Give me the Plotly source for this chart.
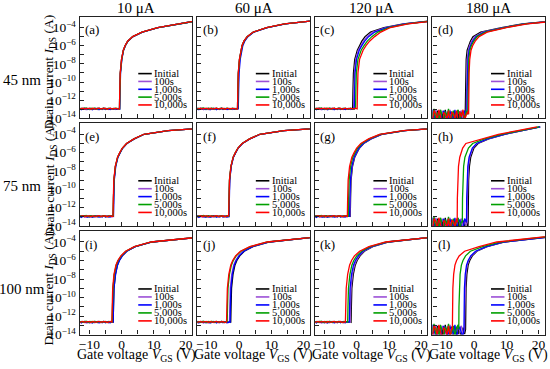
import plotly.graph_objects as go

# ---------------- data ----------------
SERIES = ["Initial", "100s", "1,000s", "5,000s", "10,000s"]
COLORS = ["#000000", "#9b4fd6", "#0000ff", "#00a000", "#ff0000"]
CURRENTS = ["10 μA", "60 μA", "120 μA", "180 μA"]
THICKNESS = ["45 nm", "75 nm", "100 nm"]
TAGS = [["(a)", "(b)", "(c)", "(d)"],
        ["(e)", "(f)", "(g)", "(h)"],
        ["(i)", "(j)", "(k)", "(l)"]]

X_TICKS = [-10, 0, 10, 20]
X_TICK_TEXT = ["−10", "0", "10", "20"]
X_MINOR = [-5, 5, 15]
Y_EXP = [-14, -12, -10, -8, -6, -4]
Y_MINOR_EXP = [-13, -11, -9, -7, -5]

# log10(I_DS) levels; each curve list = [V leaving floor, V at each level]
LEVELS = [-11, -9, -7.5, -6.5, -6, -5.5, -5, -4.5, -4, -3.6, -3.2]

# off-state floor: log10(I) level per panel
FLOOR_LEVEL = [[-12.95, -12.95, -12.95, -13.55],
               [-12.95, -12.95, -12.95, -13.6],
               [-12.65, -12.65, -12.65, -13.45]]
SPIKY = [[False, False, False, True],
         [False, False, False, True],
         [False, False, False, True]]
FLOOR_GRID = [-14.0, -13.5, -13.0, -12.5, -12.0, -11.5, -11.0, -10.5, -10.0, -9.5,
              -9.0, -8.5, -8.0, -7.5, -7.0, -6.5, -6.0, -5.5, -5.0, -4.5,
              -4.0, -3.5, -3.0, -2.5, -2.0, -1.5, -1.0, -0.5, 0.0, 0.5]
NOISE_SMALL = [
    [0.05, -0.03, 0.06, -0.05, 0.02, 0.07, -0.04, 0.03, -0.06, 0.05, 0.01, -0.04, 0.06, -0.02, 0.04,
     -0.05, 0.03, 0.06, -0.03, 0.02, -0.05, 0.04, 0.00, -0.03, 0.05, -0.02, 0.03, -0.04, 0.02, 0.0],
    [-0.06, 0.04, -0.08, 0.03, -0.05, 0.02, -0.09, 0.05, -0.03, -0.07, 0.04, -0.06, 0.02, -0.08, 0.03,
     -0.04, -0.07, 0.05, -0.05, 0.03, -0.08, 0.02, -0.04, 0.05, -0.06, 0.03, -0.02, 0.04, -0.05, 0.0],
    [0.02, -0.07, 0.04, -0.10, 0.06, -0.04, 0.03, -0.08, 0.05, -0.03, -0.09, 0.04, -0.05, 0.06, -0.10,
     0.02, -0.04, 0.05, -0.07, 0.03, -0.05, -0.08, 0.04, -0.03, 0.02, -0.06, 0.05, -0.02, 0.03, 0.0],
    [0.08, 0.02, -0.04, 0.07, -0.02, 0.05, 0.09, -0.03, 0.04, 0.06, -0.05, 0.08, 0.01, -0.03, 0.07,
     0.04, -0.02, 0.06, 0.03, -0.04, 0.07, 0.02, 0.05, -0.03, 0.06, 0.01, -0.02, 0.05, 0.03, 0.0],
    [0.03, 0.06, -0.02, 0.04, 0.08, -0.03, 0.05, 0.02, 0.07, -0.04, 0.06, 0.03, -0.02, 0.05, 0.08,
     -0.03, 0.04, 0.02, 0.06, -0.04, 0.03, 0.07, -0.02, 0.05, 0.02, 0.04, -0.03, 0.06, 0.02, 0.0],
]
NOISE_SPIKY = [
    [-0.2, 0.3, -0.7, 0.1, -0.9, 0.4, -0.3, -0.8, 0.2, -0.5, 0.5, -0.9, 0.0, -0.4, 0.3,
     -0.8, 0.1, -0.6, 0.4, -0.2, -0.9, 0.2, -0.5, 0.3, -0.7, 0.1, -0.3, 0.2, -0.6, 0.0],
    [0.4, -0.6, 0.2, -0.9, 0.5, -0.3, 0.1, -0.8, 0.4, -0.2, -0.7, 0.3, -0.5, 0.5, -0.9,
     0.2, -0.4, 0.3, -0.8, 0.1, 0.4, -0.6, 0.2, -0.3, 0.5, -0.8, 0.1, -0.4, 0.3, 0.0],
    [-0.8, 0.1, 0.5, -0.4, -0.1, -0.9, 0.3, 0.2, -0.6, 0.4, -0.3, 0.1, -0.8, 0.3, 0.0,
     -0.5, 0.5, -0.9, -0.1, 0.3, -0.4, -0.7, 0.4, 0.0, -0.6, 0.3, -0.9, 0.1, -0.2, 0.0],
    [0.2, -0.9, 0.0, 0.6, -0.5, 0.2, -0.7, 0.5, -0.1, -0.9, 0.3, -0.2, 0.6, -0.6, -0.3,
     0.4, -0.7, 0.2, 0.5, -0.8, 0.1, 0.3, -0.9, 0.4, -0.2, 0.2, -0.5, 0.3, -0.8, 0.0],
    [-0.4, 0.2, -0.8, 0.4, 0.1, -0.6, 0.5, -0.3, -0.9, 0.2, 0.0, -0.6, 0.4, -0.9, 0.2,
     0.1, -0.5, 0.4, -0.8, 0.3, -0.3, 0.5, -0.6, -0.1, 0.3, -0.7, 0.4, -0.2, 0.1, 0.0],
]

# ---- 45 nm ----
CURVES_A = [
    [-0.65, -0.55, -0.40, 0.00, 0.55, 1.10, 1.90, 3.50, 6.40, 11.3, 17.0, 24.4],
    [-0.60, -0.50, -0.35, 0.05, 0.60, 1.15, 1.95, 3.55, 6.45, 11.3, 17.0, 24.4],
    [-0.55, -0.45, -0.30, 0.10, 0.65, 1.20, 2.00, 3.60, 6.50, 11.4, 17.0, 24.4],
    [-0.60, -0.50, -0.35, 0.05, 0.60, 1.15, 1.95, 3.50, 6.40, 11.3, 17.0, 24.4],
    [-0.65, -0.55, -0.40, 0.00, 0.55, 1.10, 1.90, 3.45, 6.35, 11.2, 16.9, 24.3],
]
CURVES_B = [
    [-0.50, -0.40, -0.25, 0.10, 0.50, 0.90, 1.50, 2.50, 4.40, 8.6, 14.2, 24.5],
    [-0.40, -0.30, -0.15, 0.20, 0.60, 1.00, 1.60, 2.60, 4.50, 8.7, 14.3, 24.5],
    [-0.25, -0.15, 0.00, 0.35, 0.75, 1.15, 1.75, 2.75, 4.60, 8.8, 14.4, 24.6],
    [-0.45, -0.35, -0.20, 0.15, 0.55, 0.95, 1.55, 2.55, 4.45, 8.6, 14.2, 24.5],
    [-0.50, -0.40, -0.25, 0.10, 0.50, 0.90, 1.50, 2.50, 4.40, 8.5, 14.1, 24.4],
]
CURVES_C = [
    [-1.25, -1.15, -1.00, -0.60, 0.20, 0.90, 1.60, 2.60, 4.30, 8.5, 14.5, 25.0],
    [-0.95, -0.85, -0.70, -0.30, 0.50, 1.30, 2.10, 3.20, 5.00, 9.0, 14.8, 25.1],
    [-0.75, -0.65, -0.50, -0.05, 0.80, 1.60, 2.50, 3.70, 5.60, 9.4, 15.1, 25.2],
    [-0.35, -0.25, -0.10, 0.40, 1.40, 2.30, 3.30, 4.70, 6.60, 10.0, 15.6, 25.4],
    [0.15, 0.25, 0.40, 0.90, 2.00, 2.90, 4.00, 5.60, 7.50, 10.5, 16.0, 25.6],
]
CURVES_D = [
    [-2.80, -2.75, -2.70, -2.50, -2.20, -1.80, -1.20, -0.40, 2.00, 8.5, 15.0, 27.0],
    [-2.50, -2.45, -2.40, -2.20, -1.85, -1.45, -0.80, 0.10, 2.60, 9.0, 15.4, 27.2],
    [-2.25, -2.20, -2.15, -1.95, -1.60, -1.15, -0.45, 0.50, 3.10, 9.4, 15.7, 27.3],
    [-2.00, -1.95, -1.90, -1.70, -1.35, -0.90, -0.15, 0.90, 3.50, 9.6, 15.9, 27.4],
    [-1.75, -1.70, -1.60, -1.40, -1.00, -0.50, 0.30, 1.50, 4.00, 10.0, 16.5, 27.6],
]
# ---- 75 nm ----
CURVES_E = [
    [-2.60, -2.50, -2.35, -1.90, -1.20, -0.50, 0.30, 1.60, 3.90, 7.0, 14.5, 31.0],
    [-2.55, -2.45, -2.30, -1.85, -1.15, -0.45, 0.35, 1.65, 3.95, 7.0, 14.5, 31.0],
    [-2.50, -2.40, -2.25, -1.80, -1.10, -0.40, 0.40, 1.70, 4.00, 7.1, 14.6, 31.0],
    [-2.60, -2.50, -2.35, -1.90, -1.20, -0.50, 0.30, 1.60, 3.90, 7.0, 14.5, 31.0],
    [-2.65, -2.55, -2.40, -1.95, -1.25, -0.55, 0.25, 1.55, 3.85, 6.9, 14.4, 31.0],
]
CURVES_F = [
    [-3.20, -3.10, -2.95, -2.50, -1.80, -1.10, -0.30, 1.00, 3.30, 6.5, 14.0, 30.5],
    [-3.20, -3.10, -2.95, -2.50, -1.80, -1.10, -0.30, 1.00, 3.30, 6.5, 14.0, 30.5],
    [-3.15, -3.05, -2.90, -2.45, -1.75, -1.05, -0.25, 1.05, 3.35, 6.6, 14.0, 30.5],
    [-3.25, -3.15, -3.00, -2.55, -1.85, -1.15, -0.35, 0.95, 3.25, 6.4, 13.9, 30.5],
    [-3.25, -3.15, -3.00, -2.55, -1.85, -1.15, -0.35, 0.95, 3.25, 6.4, 13.9, 30.5],
]
CURVES_G = [
    [-2.00, -1.90, -1.75, -1.30, -0.60, 0.10, 0.90, 2.20, 4.50, 7.8, 15.0, 31.0],
    [-2.10, -2.00, -1.85, -1.40, -0.70, 0.00, 0.80, 2.10, 4.40, 7.7, 14.9, 31.0],
    [-2.20, -2.10, -1.95, -1.50, -0.80, -0.10, 0.70, 2.00, 4.30, 7.6, 14.9, 31.0],
    [-2.60, -2.50, -2.35, -1.90, -1.20, -0.50, 0.30, 1.60, 3.90, 7.3, 14.7, 31.0],
    [-2.90, -2.80, -2.65, -2.20, -1.50, -0.80, 0.00, 1.30, 3.70, 7.1, 14.5, 31.0],
]
CURVES_H = [
    [-1.90, -1.85, -1.75, -1.50, -1.10, -0.60, -0.10, 1.20, 4.50, 9.5, 15.0, 20.5],
    [-2.20, -2.15, -2.05, -1.80, -1.40, -0.90, -0.40, 0.90, 4.30, 9.3, 14.9, 20.5],
    [-2.40, -2.35, -2.25, -2.00, -1.60, -1.10, -0.60, 0.70, 4.10, 9.2, 14.8, 20.5],
    [-3.70, -3.65, -3.55, -3.30, -2.90, -2.40, -1.80, -0.50, 3.20, 8.4, 14.2, 20.2],
    [-5.30, -5.25, -5.15, -4.90, -4.50, -4.10, -3.60, -2.60, 2.50, 7.5, 13.5, 19.5],
]
# ---- 100 nm ----
CURVES_I = [
    [-2.60, -2.50, -2.35, -1.90, -1.30, -0.70, 0.20, 1.60, 4.30, 9.5, 21.0, 32.0],
    [-2.90, -2.80, -2.65, -2.20, -1.60, -1.00, -0.05, 1.40, 4.10, 9.3, 20.8, 32.0],
    [-2.60, -2.50, -2.35, -1.85, -1.25, -0.65, 0.25, 1.65, 4.30, 9.5, 21.0, 32.0],
    [-2.90, -2.80, -2.65, -2.25, -1.65, -1.05, -0.10, 1.35, 4.05, 9.3, 20.8, 32.0],
    [-3.00, -2.90, -2.75, -2.35, -1.75, -1.15, -0.20, 1.25, 4.00, 9.2, 20.7, 32.0],
]
CURVES_J = [
    [-2.60, -2.50, -2.35, -1.90, -1.30, -0.70, 0.20, 1.60, 4.30, 9.5, 20.0, 31.0],
    [-3.00, -2.90, -2.75, -2.30, -1.70, -1.10, -0.15, 1.30, 4.00, 9.2, 19.8, 31.0],
    [-2.80, -2.70, -2.55, -2.10, -1.50, -0.90, 0.00, 1.45, 4.15, 9.3, 19.9, 31.0],
    [-3.70, -3.60, -3.45, -3.00, -2.40, -1.80, -0.90, 0.60, 3.50, 8.8, 19.5, 31.0],
    [-3.90, -3.80, -3.65, -3.20, -2.60, -2.00, -1.10, 0.40, 3.35, 8.7, 19.4, 31.0],
]
CURVES_K = [
    [-1.75, -1.65, -1.50, -1.05, -0.45, 0.15, 1.05, 2.40, 5.00, 10.0, 20.0, 31.0],
    [-2.00, -1.90, -1.75, -1.30, -0.70, -0.10, 0.80, 2.20, 4.80, 9.8, 19.9, 31.0],
    [-2.30, -2.20, -2.05, -1.60, -1.00, -0.40, 0.50, 1.90, 4.60, 9.6, 19.8, 31.0],
    [-2.80, -2.70, -2.55, -2.10, -1.50, -0.90, 0.00, 1.50, 4.20, 9.3, 19.6, 31.0],
    [-3.50, -3.40, -3.25, -2.80, -2.20, -1.60, -0.70, 0.90, 3.80, 9.0, 19.4, 31.0],
]
CURVES_L = [
    [-2.70, -2.65, -2.55, -2.30, -1.90, -1.40, -0.60, 0.80, 4.00, 9.5, 19.0, 30.0],
    [-3.00, -2.95, -2.85, -2.60, -2.20, -1.70, -0.90, 0.60, 3.85, 9.3, 18.9, 30.0],
    [-3.20, -3.15, -3.05, -2.80, -2.40, -1.90, -1.10, 0.40, 3.70, 9.2, 18.8, 30.0],
    [-4.80, -4.75, -4.65, -4.40, -4.00, -3.50, -2.70, -1.20, 2.60, 8.2, 17.8, 29.0],
    [-6.80, -6.75, -6.65, -6.40, -6.00, -5.50, -4.70, -3.00, 1.50, 7.0, 16.5, 28.0],
]
CURVES = [[CURVES_A, CURVES_B, CURVES_C, CURVES_D],
          [CURVES_E, CURVES_F, CURVES_G, CURVES_H],
          [CURVES_I, CURVES_J, CURVES_K, CURVES_L]]

# ---------------- layout geometry (pixels) ----------------
W, H = 550, 369
COL_LEFT = [79, 197, 315, 433]
COL_W = 113
ROW_TOP = [17, 126, 236]
ROW_BOT = [121, 231, 342]
FONT = "Liberation Serif, Times New Roman, Times, serif"


def sci(e):
    return "10<sup><span style='font-size:9px'>−%d</span></sup>" % (-e)


fig = go.Figure()
layout = dict(width=W, height=H, margin=dict(l=0, r=0, t=0, b=0),
              paper_bgcolor="white", plot_bgcolor="white", showlegend=False,
              font=dict(family=FONT, size=13, color="black"))
shapes, annots = [], []

for r in range(3):
    for c in range(4):
        k = r * 4 + c + 1
        xs = "" if k == 1 else str(k)
        xname, yname = "x" + xs, "y" + xs
        floor = FLOOR_LEVEL[r][c]
        noise = NOISE_SPIKY if SPIKY[r][c] else NOISE_SMALL
        for s in range(5):
            cv = CURVES[r][c][s]
            von = cv[0]
            vx, ly = [], []
            for i, v in enumerate(FLOOR_GRID):
                if v < von:
                    vx.append(v)
                    ly.append(floor + noise[s][i])
            vx.append(von)
            ly.append(floor)
            vx += cv[1:]
            ly += LEVELS
            fig.add_trace(go.Scatter(
                x=vx, y=[10.0 ** e for e in ly], mode="lines", name=SERIES[s],
                line=dict(color=COLORS[s], width=1.3), xaxis=xname, yaxis=yname,
                hoverinfo="skip"))
        x0 = COL_LEFT[c] / W
        x1 = (COL_LEFT[c] + COL_W) / W
        y0 = 1 - ROW_BOT[r] / H
        y1 = 1 - ROW_TOP[r] / H
        layout["xaxis" + xs] = dict(
            domain=[x0, x1], anchor=yname, range=[-13, 22],
            tickmode="array", tickvals=X_TICKS,
            ticktext=X_TICK_TEXT, showticklabels=(r == 2),
            ticks="inside", ticklen=4, tickwidth=1, tickcolor="#222",
            minor=dict(tickmode="array", tickvals=X_MINOR, ticks="inside",
                       ticklen=4, tickwidth=1, tickcolor="#222", showgrid=False),
            showline=True, mirror=True, linecolor="#222", linewidth=1.3,
            showgrid=False, zeroline=False, tickfont=dict(family=FONT, size=13.5),
            ticklabelstandoff=-3)
        layout["yaxis" + xs] = dict(
            domain=[y0, y1], anchor=xname, type="log", range=[-14, -2.8],
            tickmode="array", tickvals=[10.0 ** e for e in Y_EXP],
            ticktext=[sci(e) for e in Y_EXP],
            showticklabels=(c == 0),
            ticks="inside", ticklen=4, tickwidth=1, tickcolor="#222",
            minor=dict(tickmode="array", tickvals=[10.0 ** e for e in Y_MINOR_EXP],
                       ticks="inside", ticklen=4, tickwidth=1, tickcolor="#222",
                       showgrid=False),
            showline=True, mirror=True, linecolor="#222", linewidth=1.3,
            showgrid=False, zeroline=False, tickfont=dict(family=FONT, size=13.5))
        # panel tag
        annots.append(dict(text=TAGS[r][c], xref=xname + " domain", yref=yname + " domain",
                           x=0.03, y=0.87, xanchor="left", yanchor="middle",
                           showarrow=False, font=dict(family=FONT, size=13)))
        # legend
        for s in range(5):
            ly_ = 0.44 - 0.077 * s
            shapes.append(dict(type="line", xref=xname + " domain", yref=yname + " domain",
                               x0=0.52, x1=0.64, y0=ly_, y1=ly_,
                               line=dict(color=COLORS[s], width=1.6)))
            annots.append(dict(text=SERIES[s], xref=xname + " domain", yref=yname + " domain",
                               x=0.645, y=ly_, xanchor="left", yanchor="middle",
                               showarrow=False, font=dict(family=FONT, size=10.5)))

# column titles and x titles
for c in range(4):
    annots.append(dict(text=CURRENTS[c], xref="paper", yref="paper",
                       x=(COL_LEFT[c] + COL_W / 2) / W, y=1 - 8 / H,
                       xanchor="center", yanchor="middle", showarrow=False,
                       font=dict(family=FONT, size=15)))
    annots.append(dict(text="Gate voltage <i>V</i><sub>GS</sub> (V)", xref="paper", yref="paper",
                       x=(COL_LEFT[c] + COL_W / 2) / W, y=-4 / H, borderpad=0,
                       xanchor="center", yanchor="bottom", showarrow=False,
                       font=dict(family=FONT, size=14)))
# row labels and y titles
ROW_LABEL_Y = [82, 190, 295]
YTITLE_Y = [74, 184, 295]
for r in range(3):
    annots.append(dict(text=THICKNESS[r], xref="paper", yref="paper",
                       x=21 / W, y=1 - ROW_LABEL_Y[r] / H, xanchor="center", yanchor="middle",
                       showarrow=False, font=dict(family=FONT, size=15)))
    annots.append(dict(text="Drain current <i>I</i><sub>DS</sub> (A)", xref="paper", yref="paper",
                       x=49 / W, y=1 - YTITLE_Y[r] / H, xanchor="center", yanchor="middle",
                       textangle=-90, showarrow=False, font=dict(family=FONT, size=13.5)))

layout["shapes"] = shapes
layout["annotations"] = annots
fig.update_layout(**layout)
fig.write_html("out.html", config={"displayModeBar": False},
               post_script="document.body.style.margin='0px';")
